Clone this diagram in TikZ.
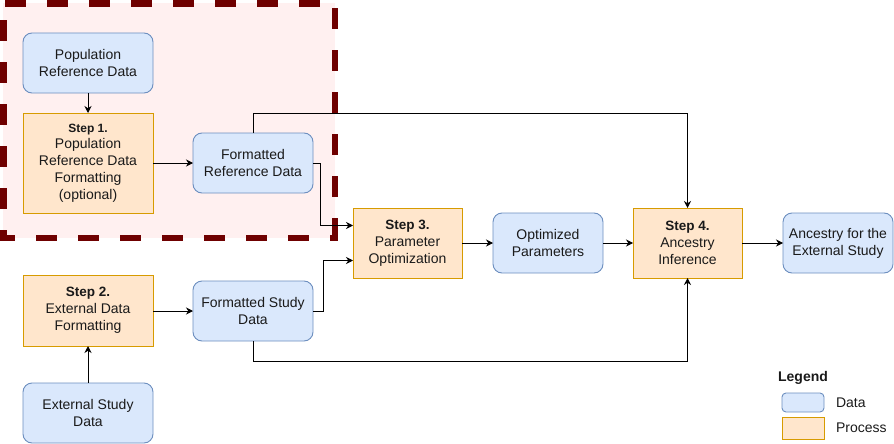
\documentclass[tikz,border=0pt]{standalone}
\usepackage{fontspec}
\setmainfont{Liberation Sans}
\usetikzlibrary{arrows.meta}
\definecolor{datafill}{HTML}{DAE8FC}
\definecolor{dataline}{HTML}{6C8EBF}
\definecolor{procfill}{HTML}{FFE6CC}
\definecolor{procline}{HTML}{D79B00}
\definecolor{pinkfill}{HTML}{FFF0F0}
\definecolor{darkred}{HTML}{6F0000}
\definecolor{txt}{HTML}{1A1A1A}
\begin{document}
\begin{tikzpicture}[x=1pt,y=-1pt,
  every node/.style={inner sep=0pt, outer sep=0pt, text=txt, align=center,
    font=\fontsize{14}{16.8}\selectfont},
  databox/.style={draw=dataline, fill=datafill, line width=0.9pt, rounded corners=9pt,
    minimum width=#1, minimum height=60pt},
  procbox/.style={draw=procline, fill=procfill, line width=0.9pt},
  arr/.style={draw=black, line width=0.9pt, -{Stealth[length=7pt,width=7pt]}},
  regionedge/.style={line width=6.5pt, draw=darkred, dash pattern=on 21pt off 21pt}]
\useasboundingbox (0,0) rectangle (894,444);
% highlighted region
\fill[pinkfill] (3.3,3.3) rectangle (335,238);
\coordinate (rtl) at (3.3,3.3);
\coordinate (rtr) at (335,3.3);
\coordinate (rbr) at (335,238);
\coordinate (rbl) at (3.3,238);
\draw[regionedge] ([xshift=2pt]rtl) -- (rtr);
\draw[regionedge] ([yshift=-5pt]rtr) -- ([yshift=-3pt]rbr);
\draw[regionedge] ([xshift=-9pt]rbl) -- ([xshift=3pt]rbr);
\draw[regionedge] ([yshift=-17pt]rtl) -- (rbl);
% nodes
\node[databox=130pt] (popref) at (88,63) {Population\\Reference Data};
\node[procbox, minimum width=130pt, minimum height=100pt] (step1) at (88,163)
  {{\fontsize{12}{15}\selectfont\bfseries Step 1.}\\Population\\Reference Data\\Formatting\\(optional)};
\node[databox=120pt] (fref) at (253,163) {Formatted\\Reference Data};
\node[procbox, minimum width=109pt, minimum height=70pt] (step3) at (407.5,243)
  {{\fontsize{13.5}{16.8}\selectfont\bfseries Step 3.}\\Parameter\\Optimization};
\node[databox=110pt] (opt) at (548,243) {Optimized\\Parameters};
\node[procbox, minimum width=109pt, minimum height=70pt] (step4) at (687.5,243)
  {{\fontsize{13.5}{16.8}\selectfont\bfseries Step 4.}\\Ancestry\\Inference};
\node[databox=110pt] (anc) at (838,243) {Ancestry for the\\External Study};
\node[procbox, minimum width=130pt, minimum height=71pt] (step2) at (88,310.5)
  {{\fontsize{13.5}{16.8}\selectfont\bfseries Step 2.}\\External Data\\Formatting};
\node[databox=120pt] (fstudy) at (253,311) {Formatted Study\\Data};
\node[databox=130pt] (ext) at (88,413) {External Study\\Data};
% connectors
\draw[arr] (popref) -- (step1);
\draw[arr] (step1) -- (fref);
\draw[arr] (fref.east) -- ++(7,0) |- ([yshift=17.5pt]step3.west);
\draw[arr] (fref.north) -- ++(0,-20) -| (step4.north);
\draw[arr] (fstudy.east) -- ++(10,0) |- ([yshift=-17.5pt]step3.west);
\draw[arr] (fstudy.south) -- ++(0,20) -| (step4.south);
\draw[arr] (step2.east |- fstudy.east) -- (fstudy.west);
\draw[arr] (ext) -- (step2);
\draw[arr] (step3) -- (opt);
\draw[arr] (opt) -- (step4);
\draw[arr] (step4) -- (anc);
% legend
\node[font=\fontsize{14}{16.8}\selectfont\bfseries] (legtitle) at (803,378) {Legend};
\node[draw=dataline, fill=datafill, line width=0.9pt, rounded corners=4pt,
  minimum width=42pt, minimum height=19pt] (legdata) at (803,402.5) {};
\node[draw=procline, fill=procfill, line width=0.9pt,
  minimum width=42pt, minimum height=22pt] (legproc) at (803,428) {};
\node[anchor=west] (legdatatxt) at (836,402.5) {Data};
\node[anchor=west] (legproctxt) at (836,428) {Process};
\end{tikzpicture}
\end{document}
